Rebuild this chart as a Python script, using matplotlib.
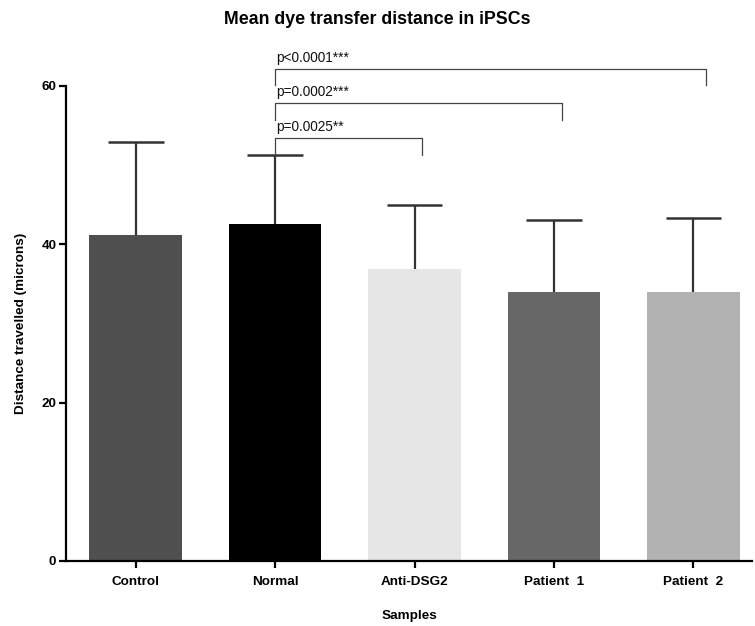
import numpy as np
import matplotlib
matplotlib.use("Agg")
import matplotlib.pyplot as plt

plt.rcParams['font.family'] = ['Liberation Sans', 'DejaVu Sans']

# data
samples = ["Control", "Normal", "Anti-DSG2", "Patient  1", "Patient  2"]
means = [41.2, 42.5, 36.8, 33.9, 33.9]
upper = [52.9, 51.2, 45.0, 43.0, 43.3]   # top of error bar
colors = ["#4f4f4f", "#000000", "#e6e6e6", "#676767", "#b2b2b2"]

# significance brackets: (from, to, bracket height, drop on right, label)
br_from = [1, 1, 1]
br_to = [2.05, 3.06, 4.09]
br_y = [53.4, 57.8, 62.1]
br_drop = [51.2, 55.7, 60.1]
br_text = ["p=0.0025**", "p=0.0002***", "p<0.0001***"]

fig = plt.figure(figsize=(7.55, 6.26), dpi=100)
ax = fig.add_axes([0.0874, 0.104, 0.9086, 0.759])

x = np.arange(len(samples))
ax.bar(x, means, width=0.665, color=colors, zorder=2)
# upper error bar only (stem + cap)
ax.vlines(x, means, upper, color="#333333", lw=1.6, zorder=1)
ax.hlines(upper, x - 0.2, x + 0.2, color="#333333", lw=1.8, zorder=1)

for a, b, y, d, t in zip(br_from, br_to, br_y, br_drop, br_text):
    ax.plot([a, a, b, b], [d, y, y, d], color="#444444", lw=0.9, clip_on=False)
    ax.text(a + 0.005, y + 0.5, t, fontsize=9.8, ha='left', va='bottom', color="#111111")

ax.set_xlim(-0.5, 4.42)
ax.set_ylim(0, 60)
ax.set_yticks([0, 20, 40, 60])
ax.set_xticks(x)
ax.set_xticklabels(samples, fontweight='bold', fontsize=9.7)
for lab in ax.get_yticklabels():
    lab.set_fontweight('bold')
    lab.set_fontsize(9.7)

ax.spines['top'].set_visible(False)
ax.spines['right'].set_visible(False)
ax.spines['left'].set_linewidth(1.6)
ax.spines['bottom'].set_linewidth(1.6)
ax.tick_params(axis='x', width=1.6, length=5, pad=6)
ax.tick_params(axis='y', width=1.6, length=5, pad=2)

ax.set_xlabel("Samples", fontweight='bold', fontsize=9.7, labelpad=16)
ax.set_ylabel("Distance travelled (microns)", fontweight='bold', fontsize=9.7, labelpad=10)
fig.suptitle("Mean dye transfer distance in iPSCs", fontweight='bold', fontsize=12.8, y=0.983)

fig.savefig("out.png", dpi=100)
